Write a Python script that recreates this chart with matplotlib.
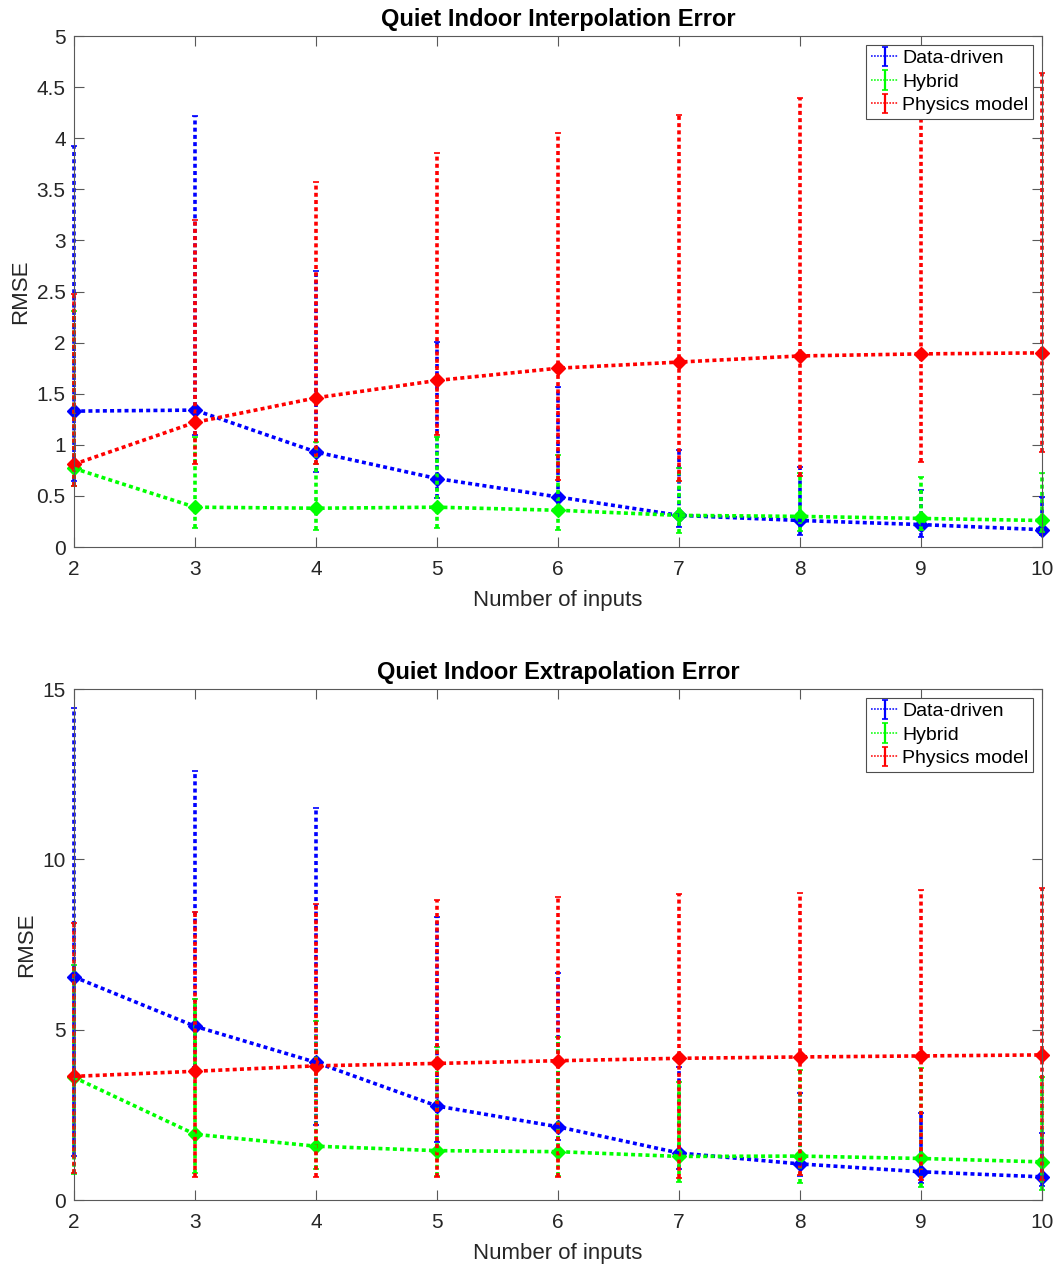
import numpy as np
import matplotlib
matplotlib.use("Agg")
import matplotlib.pyplot as plt
from matplotlib.collections import LineCollection
from matplotlib.legend_handler import HandlerErrorbar
from matplotlib.ticker import FuncFormatter

plt.rcParams["font.family"] = ["Liberation Sans", "DejaVu Sans"]

n_inputs = [2, 3, 4, 5, 6, 7, 8, 9, 10]
labels = ["Data-driven", "Hybrid", "Physics model"]
colors = ["#0000ff", "#00ff00", "#ff0000"]

# interpolation RMSE: mean, min, max per number of inputs
interp_dd_mean = [1.33, 1.34, 0.93, 0.67, 0.49, 0.31, 0.26, 0.22, 0.17]
interp_dd_lo = [0.65, 1.10, 0.73, 0.48, 0.35, 0.20, 0.12, 0.10, 0.12]
interp_dd_hi = [3.92, 4.22, 2.70, 2.01, 1.57, 0.95, 0.78, 0.56, 0.49]
interp_hy_mean = [0.77, 0.39, 0.38, 0.39, 0.36, 0.31, 0.30, 0.28, 0.26]
interp_hy_lo = [0.60, 0.19, 0.17, 0.19, 0.17, 0.14, 0.16, 0.17, 0.15]
interp_hy_hi = [2.31, 1.08, 1.03, 1.08, 0.90, 0.77, 0.72, 0.69, 0.72]
interp_ph_mean = [0.81, 1.22, 1.46, 1.63, 1.75, 1.81, 1.87, 1.89, 1.90]
interp_ph_lo = [0.60, 0.81, 0.81, 1.10, 0.66, 0.65, 0.70, 0.83, 0.93]
interp_ph_hi = [2.48, 3.20, 3.57, 3.86, 4.05, 4.23, 4.39, 4.50, 4.64]

# extrapolation RMSE
extrap_dd_mean = [6.55, 5.10, 4.04, 2.76, 2.15, 1.38, 1.06, 0.83, 0.68]
extrap_dd_lo = [1.30, 3.90, 2.21, 1.70, 1.76, 0.90, 0.70, 0.50, 0.40]
extrap_dd_hi = [14.43, 12.58, 11.52, 8.32, 6.66, 3.91, 3.13, 2.55, 1.96]
extrap_hy_mean = [3.60, 1.93, 1.58, 1.45, 1.42, 1.28, 1.29, 1.22, 1.12]
extrap_hy_lo = [0.75, 0.80, 0.90, 0.70, 0.70, 0.54, 0.49, 0.39, 0.29]
extrap_hy_hi = [6.90, 5.90, 5.25, 4.50, 4.79, 3.47, 3.82, 3.87, 3.62]
extrap_ph_mean = [3.63, 3.78, 3.94, 4.01, 4.09, 4.16, 4.20, 4.23, 4.26]
extrap_ph_lo = [0.80, 0.69, 0.69, 0.68, 0.67, 0.65, 0.73, 0.59, 0.59]
extrap_ph_hi = [8.14, 8.45, 8.70, 8.81, 8.90, 8.98, 9.02, 9.10, 9.16]

DOT = (0, (1.1, 0.9))
LW = 2.6
AX_GRAY = "0.35"


def _legend_style(legend_handle, orig_handle):
    # thin dotted line with a solid error-bar glyph in the legend
    legend_handle.update_from(orig_handle)
    if isinstance(legend_handle, LineCollection):
        legend_handle.set_linestyle("-")
        legend_handle.set_linewidth(1.6)
    else:
        legend_handle.set_linewidth(1.1)


def draw_panel(ax, series, title, ylim, yticks):
    handles = []
    for (mean, lo, hi), color, label in zip(series, colors, labels):
        mean, lo, hi = np.asarray(mean), np.asarray(lo), np.asarray(hi)
        eb = ax.errorbar(n_inputs, mean, yerr=[mean - lo, hi - mean], color=color,
                         ls=DOT, lw=LW, elinewidth=LW, capsize=2, capthick=1.2,
                         label=label, clip_on=False)
        eb[2][0].set_linestyle(DOT)
        eb[2][0].set_clip_on(False)
        for cap in eb[1]:
            cap.set_clip_on(False)
        ax.plot(n_inputs, mean, "D", color=color, ms=7, mec=color, clip_on=False)
        handles.append(eb)

    ax.set_xlim(2, 10)
    ax.set_ylim(*ylim)
    ax.set_xticks(n_inputs)
    ax.set_yticks(yticks)
    ax.yaxis.set_major_formatter(FuncFormatter(lambda v, _: f"{v:g}"))
    ax.set_title(title, fontsize=17, fontweight="bold", pad=7)
    ax.set_xlabel("Number of inputs", fontsize=16, color="0.15", labelpad=8)
    ax.set_ylabel("RMSE", fontsize=16, color="0.15", labelpad=4)
    ax.tick_params(direction="in", length=7, width=0.8, top=True, right=True,
                   labelsize=15, colors=AX_GRAY, labelcolor="0.15")
    ax.tick_params(axis="x", pad=9)
    ax.tick_params(axis="y", pad=6)
    for sp in ax.spines.values():
        sp.set_color(AX_GRAY)
        sp.set_linewidth(0.8)

    leg = ax.legend(handles=handles, loc="upper right", fontsize=14,
                    fancybox=False, framealpha=1, edgecolor="0.3",
                    borderaxespad=0.45, handlelength=1.4, handletextpad=0.2,
                    borderpad=0.25, labelspacing=0.3,
                    handler_map={type(handles[0]): HandlerErrorbar(update_func=_legend_style)})
    leg.get_frame().set_linewidth(0.8)
    leg.set_zorder(5)


fig = plt.figure(figsize=(10.57, 12.64), dpi=100)
ax1 = fig.add_axes([0.070, 0.5672, 0.916, 0.4043])
ax2 = fig.add_axes([0.070, 0.0506, 0.916, 0.4043])

draw_panel(ax1,
           [(interp_dd_mean, interp_dd_lo, interp_dd_hi),
            (interp_hy_mean, interp_hy_lo, interp_hy_hi),
            (interp_ph_mean, interp_ph_lo, interp_ph_hi)],
           "Quiet Indoor Interpolation Error", (0, 5), np.arange(0, 5.01, 0.5))
draw_panel(ax2,
           [(extrap_dd_mean, extrap_dd_lo, extrap_dd_hi),
            (extrap_hy_mean, extrap_hy_lo, extrap_hy_hi),
            (extrap_ph_mean, extrap_ph_lo, extrap_ph_hi)],
           "Quiet Indoor Extrapolation Error", (0, 15), [0, 5, 10, 15])

fig.savefig("out.png", dpi=100)
